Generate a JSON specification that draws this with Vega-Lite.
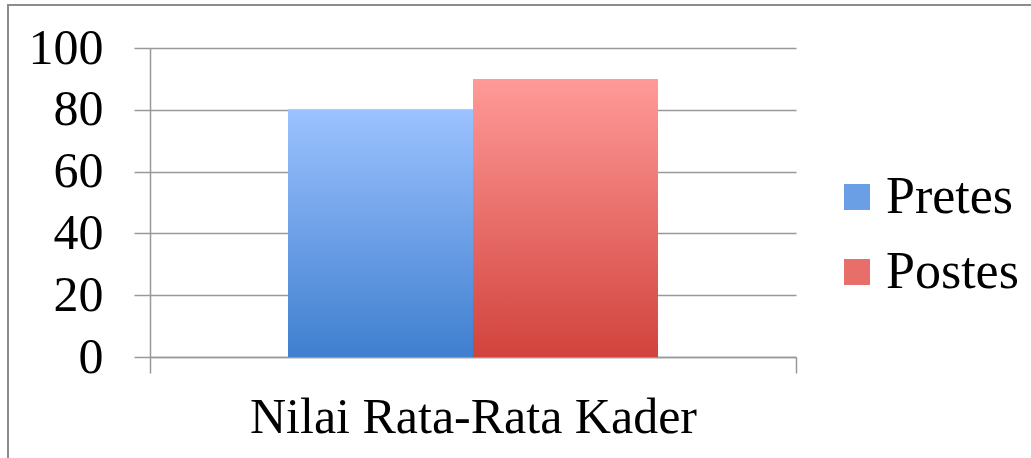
{
  "$schema": "https://vega.github.io/schema/vega-lite/v6.json",
  "width": 1032,
  "height": 465,
  "autosize": {"type": "none"},
  "padding": {"left": 8, "top": 5, "right": 0, "bottom": 0},
  "background": "white",
  "config": {"view": {"stroke": "#8c8c8c", "strokeWidth": 2}},
  "data": {
    "values": [
      {"cat": "Nilai Rata-Rata Kader", "series": "Pretes", "value": 80},
      {"cat": "Nilai Rata-Rata Kader", "series": "Postes", "value": 90}
    ]
  },
  "encoding": {
    "x": {
      "field": "cat",
      "type": "nominal",
      "scale": {"paddingInner": 0, "paddingOuter": 0, "range": [142, 788]},
      "axis": {
        "title": null,
        "offset": -113,
        "labelAngle": 0,
        "tickBand": "extent",
        "tickSize": 16,
        "tickColor": "#999999",
        "tickWidth": 1.5,
        "domainColor": "#999999",
        "domainWidth": 1.5,
        "labelFont": "Liberation Serif",
        "labelFontSize": 50,
        "labelColor": "#000000",
        "labelPadding": 19,
        "labelLimit": 0
      }
    },
    "xOffset": {
      "field": "series",
      "type": "nominal",
      "sort": ["Pretes", "Postes"],
      "scale": {"paddingInner": 0, "paddingOuter": 0.746}
    },
    "y": {
      "field": "value",
      "type": "quantitative",
      "scale": {"domain": [0, 100], "range": [352, 43]},
      "axis": {
        "title": null,
        "offset": -142,
        "values": [0, 20, 40, 60, 80, 100],
        "tickSize": 16,
        "tickColor": "#999999",
        "tickWidth": 1.5,
        "domainColor": "#999999",
        "domainWidth": 1.5,
        "gridColor": "#999999",
        "gridWidth": 1.5,
        "labelFont": "Liberation Serif",
        "labelFontSize": 50,
        "labelColor": "#000000",
        "labelPadding": 31
      }
    }
  },
  "layer": [
    {
      "mark": {"type": "bar"},
      "encoding": {
        "color": {
          "field": "series",
          "type": "nominal",
          "sort": ["Pretes", "Postes"],
          "scale": {"range": ["#6a9fe6", "#e86e6a"]},
          "legend": {
            "title": null,
            "orient": "none",
            "legendX": 823,
            "legendY": 166,
            "symbolType": "square",
            "symbolSize": 676,
            "symbolStrokeWidth": 0,
            "symbolOpacity": 1,
            "labelFont": "Liberation Serif",
            "labelFontSize": 52,
            "labelColor": "#000000",
            "labelOffset": 3,
            "rowPadding": 23
          }
        }
      }
    },
    {
      "transform": [{"filter": "datum.series === 'Pretes'"}],
      "mark": {
        "type": "bar",
        "color": {"gradient": "linear", "x1": 0, "y1": 0, "x2": 0, "y2": 1, "stops": [{"offset": 0, "color": "#9cc2ff"}, {"offset": 1, "color": "#3f7fcf"}]}
      }
    },
    {
      "transform": [{"filter": "datum.series === 'Postes'"}],
      "mark": {
        "type": "bar",
        "color": {"gradient": "linear", "x1": 0, "y1": 0, "x2": 0, "y2": 1, "stops": [{"offset": 0, "color": "#ff9a98"}, {"offset": 1, "color": "#d2433d"}]}
      }
    }
  ]
}
